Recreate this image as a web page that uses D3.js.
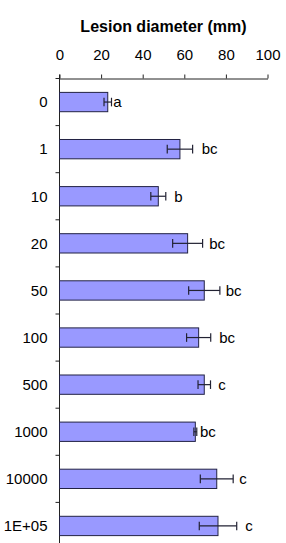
<!DOCTYPE html>
<html>
<head>
<meta charset="utf-8">
<script src="https://cdn.jsdelivr.net/npm/d3@7"></script>
<style>
  html, body { margin: 0; padding: 0; background: #fff; }
  svg { display: block; font-family: "Liberation Sans", Arial, sans-serif; }
</style>
</head>
<body>
<script>
const categories = ["0", "1", "10", "20", "50", "100", "500", "1000", "10000", "1E+05"];
const means = [23.2, 57.9, 47.5, 61.6, 69.6, 66.9, 69.6, 65.3, 75.6, 76.2];
const errors = [1.8, 6.1, 3.6, 7.2, 7.5, 5.8, 3.0, 0.7, 7.9, 9.0];
const letters = ["a", "bc", "b", "bc", "bc", "bc", "c", "bc", "c", "c"];
const letterPos = [25.8, 68.4, 55.2, 72.0, 79.9, 76.8, 76.3, 67.5, 86.4, 89.3];
const xTicks = [0, 20, 40, 60, 80, 100];
const title = "Lesion diameter (mm)";

const W = 286, H = 543;
const svg = d3.select("body").append("svg").attr("width", W).attr("height", H);

const x = d3.scaleLinear().domain([0, 100]).range([59.5, 267.5]);
const y = d3.scaleBand().domain(categories).range([78.5, 549.5])
  .paddingInner(0.59).paddingOuter(0.295);
const yEdge = d3.scaleLinear().domain([0, categories.length]).range([78.5, 549.5]);

const data = categories.map((c, i) => ({c, m: means[i], e: errors[i], l: letters[i], lp: letterPos[i]}));

// Title
svg.append("text").attr("x", (x(0) + x(100)) / 2).attr("y", 32.3)
  .attr("text-anchor", "middle").attr("font-size", 16).attr("font-weight", "bold")
  .attr("fill", "#000").text(title);

// Top axis
const xAxis = svg.append("g").attr("transform", `translate(0,${78.5})`)
  .call(d3.axisTop(x).tickValues(xTicks).tickSizeInner(4).tickSizeOuter(0).tickPadding(14.5));
xAxis.selectAll("text").attr("font-size", 15).attr("fill", "#000").attr("font-family", "Liberation Sans, Arial, sans-serif");
xAxis.selectAll("line, path").attr("stroke", "#222");

// Left axis line
svg.append("line").attr("x1", x(0)).attr("x2", x(0)).attr("y1", 74.5).attr("y2", H)
  .attr("stroke", "#222");
// Category boundary ticks
svg.selectAll(".ytick").data(d3.range(categories.length + 1)).join("line")
  .attr("x1", x(0) - 4).attr("x2", x(0))
  .attr("y1", d => yEdge(d)).attr("y2", d => yEdge(d))
  .attr("stroke", "#222");
// Category labels
svg.selectAll(".ylab").data(categories).join("text")
  .attr("x", x(0) - 12).attr("y", d => y(d) + y.bandwidth() / 2)
  .attr("dy", "0.35em").attr("text-anchor", "end")
  .attr("font-size", 15).attr("fill", "#000").text(d => d);

// Bars
svg.selectAll(".bar").data(data).join("rect")
  .attr("x", x(0)).attr("y", d => y(d.c))
  .attr("width", d => x(d.m) - x(0)).attr("height", y.bandwidth())
  .attr("fill", "#9999ff").attr("stroke", "#222244").attr("stroke-width", 1);

// Error bars
const eb = svg.selectAll(".err").data(data).join("g").attr("stroke", "#222233").attr("stroke-width", 1.2);
eb.append("line")
  .attr("x1", d => x(d.m - d.e)).attr("x2", d => x(d.m + d.e))
  .attr("y1", d => y(d.c) + y.bandwidth() / 2).attr("y2", d => y(d.c) + y.bandwidth() / 2);
eb.append("line")
  .attr("x1", d => x(d.m - d.e)).attr("x2", d => x(d.m - d.e))
  .attr("y1", d => y(d.c) + y.bandwidth() / 2 - 4.3).attr("y2", d => y(d.c) + y.bandwidth() / 2 + 4.3);
eb.append("line")
  .attr("x1", d => x(d.m + d.e)).attr("x2", d => x(d.m + d.e))
  .attr("y1", d => y(d.c) + y.bandwidth() / 2 - 4.3).attr("y2", d => y(d.c) + y.bandwidth() / 2 + 4.3);

// Significance letters
svg.selectAll(".let").data(data).join("text")
  .attr("x", d => x(d.lp)).attr("y", d => y(d.c) + y.bandwidth() / 2)
  .attr("dy", "0.35em").attr("font-size", 15).attr("fill", "#000").text(d => d.l);
</script>
</body>
</html>
